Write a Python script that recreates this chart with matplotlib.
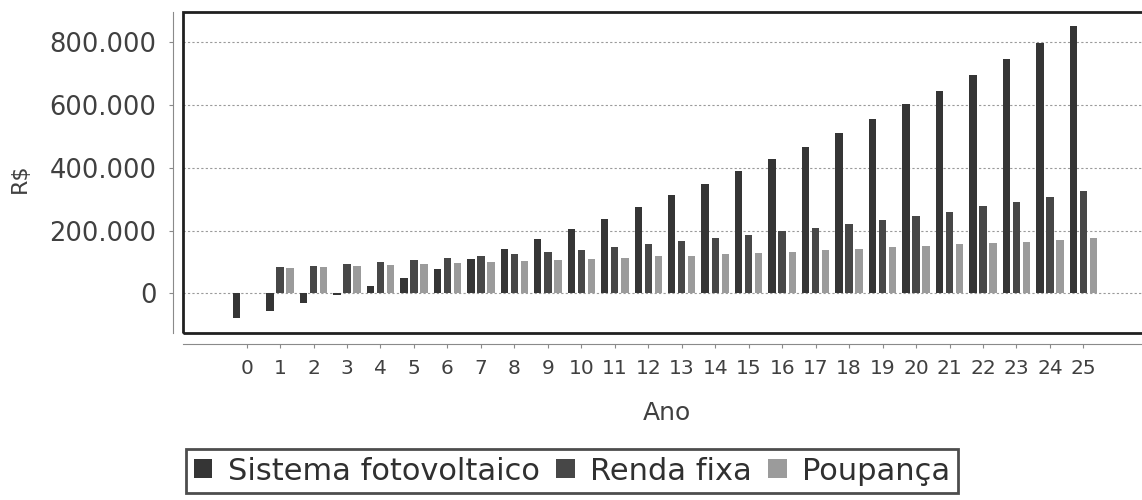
import matplotlib
matplotlib.use("Agg")
import matplotlib.pyplot as plt
from matplotlib.patches import Rectangle
import numpy as np

anos = list(range(26))

# valores em milhares de R$
fotovoltaico = [-79, -55, -30, -4, 22, 50, 79, 108, 141, 172, 205, 238, 274, 312,
                349, 388, 427, 467, 511, 554, 601, 645, 695, 746, 797, 849]
renda_fixa = [0, 83, 87, 95, 100, 105, 111, 118, 124, 132, 139, 148, 157, 167,
              175, 185, 198, 209, 220, 232, 247, 260, 277, 292, 308, 327]
poupanca = [0, 82, 84, 86, 91, 93, 96, 99, 104, 106, 110, 114, 118, 120,
            124, 129, 133, 137, 141, 146, 151, 156, 160, 164, 170, 176]

series = ["Sistema fotovoltaico", "Renda fixa", "Poupança"]
cores = ["#353535", "#474747", "#9b9b9b"]
yticks = [0, 200000, 400000, 600000, 800000]

fig = plt.figure(figsize=(11.42, 5.0), dpi=100)
ax = fig.add_axes([183 / 1142, 1 - 333 / 500, 964 / 1142, 321 / 500])

x = np.array(anos)
w = 0.22
valores = [fotovoltaico, renda_fixa, poupanca]
barras = []
for i, vals in enumerate(valores):
    b = ax.bar(x + (i - 1) * 0.3, np.array(vals) * 1000, width=w,
               color=cores[i], label=series[i], zorder=3)
    barras.append(b)

ax.set_xlim(-1.9, 26.9)
ax.set_ylim(-126000, 895000)

# grade pontilhada
ax.set_yticks(yticks)
ax.set_yticklabels([f"{v:,}".replace(",", ".") for v in yticks])
ax.yaxis.grid(True, linestyle=(0, (2, 2)), color="#9a9a9a", linewidth=0.8, zorder=0)
ax.set_xticks(anos)
ax.set_xticklabels([str(a) for a in anos])

for s in ["top", "right"]:
    ax.spines[s].set_visible(False)
ax.spines["left"].set_position(("outward", 7.2))
ax.spines["bottom"].set_position(("outward", 8))
ax.spines["left"].set_color("#8a8a8a")
ax.spines["bottom"].set_color("#8a8a8a")
ax.tick_params(axis="y", length=3, color="#8a8a8a", labelsize=18.5,
               labelcolor="#404040", pad=9)
ax.tick_params(axis="x", length=3, color="#8a8a8a", labelsize=14.5,
               labelcolor="#404040", pad=8)

# moldura da area do grafico
ax.add_patch(Rectangle((0, 0), 1, 1, transform=ax.transAxes, fill=False,
                       edgecolor="#202020", linewidth=2, clip_on=False, zorder=5))

fig.text(20 / 1142, 1 - 178 / 500, "R$", rotation=90, fontsize=16,
         color="#404040", ha="center", va="center")
fig.text(667 / 1142, 1 - 413 / 500, "Ano", fontsize=18, color="#404040",
         ha="center", va="center")

leg = fig.legend(handles=barras, labels=series, loc="center",
                 bbox_to_anchor=(572 / 1142, 1 - 471 / 500), ncol=3,
                 fontsize=22, frameon=True, fancybox=False,
                 handlelength=0.6, handleheight=0.6, handletextpad=0.5,
                 columnspacing=0.55, borderpad=0.25, borderaxespad=0)
leg.get_frame().set_edgecolor("#202020")
leg.get_frame().set_linewidth(2)
for t in leg.get_texts():
    t.set_color("#303030")

fig.savefig("out.png", dpi=100, facecolor="white")
